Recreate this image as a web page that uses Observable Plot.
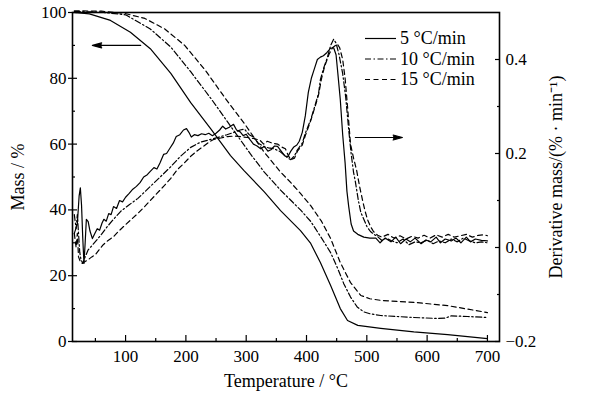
<!DOCTYPE html>
<html><head><meta charset="utf-8">
<script src="https://cdn.jsdelivr.net/npm/d3@7"></script>
<script src="https://cdn.jsdelivr.net/npm/@observablehq/plot@0.6"></script>
<style>body{margin:0;background:#fff} #chart{position:relative;width:592px;height:399px} #chart svg text{font-family:'Liberation Serif','Times New Roman',serif}</style>
</head><body><div id="chart"></div>
<script>
const seriesNames = ["5 °C/min", "10 °C/min", "15 °C/min"];

// Mass (%) vs temperature (°C)
const mass5 = [[15,100],[40,99.6],[75,97.6],[108,94],[141,89],[175,81.5],[208,72.6],[241,64.7],[274,56.5],[296,52],[330,45.5],[357,39.8],[390,33.7],[407,29.8],[423,24],[440,17],[456,10],[468,6.4],[485,4.9],[523,4],[578,2.9],[634,2.1],[700,0.9]];
const mass10 = [[15,100.3],[60,100.1],[100,99.3],[141,95],[175,89.5],[208,82],[241,74],[274,65.5],[307,57],[330,51.5],[357,46],[390,40],[407,36.5],[423,32],[440,27],[451,22.5],[462,17.5],[473,13.5],[484,10.5],[495,9],[506,8.4],[523,7.9],[578,7.3],[617,7.0],[630,7.1],[640,7.8],[667,7.6],[700,7.3]];
const mass15 = [[15,100.5],[60,100.4],[97,99.8],[132,98.2],[165,95],[198,90],[232,82.5],[265,74],[298,66],[330,57.5],[357,51.5],[374,48.3],[390,45],[407,41.3],[425,36.5],[440,31.3],[456,24],[473,17.9],[490,14],[505,13],[523,12.5],[578,11.9],[634,10.9],[700,8.8]];

// Derivative mass (%/min) vs temperature (°C)
const deriv5 = [[15,0.03],[20,0.05],[23,0.11],[25,0.127],[27,0.09],[29,0.02],[31,-0.034],[33,0.01],[35,0.06],[38,0.055],[41,0.035],[45,0.019],[49,0.03],[53,0.04],[57,0.037],[61,0.052],[64,0.06],[68,0.056],[72,0.072],[76,0.07],[80,0.087],[85,0.083],[90,0.1],[95,0.097],[100,0.107],[106,0.115],[112,0.124],[118,0.13],[124,0.138],[130,0.15],[136,0.155],[141,0.162],[147,0.17],[152,0.167],[157,0.18],[163,0.198],[168,0.2],[173,0.21],[179,0.222],[184,0.236],[190,0.24],[196,0.25],[201,0.253],[205,0.245],[209,0.235],[214,0.24],[220,0.238],[226,0.242],[232,0.24],[238,0.243],[244,0.238],[250,0.243],[256,0.25],[261,0.258],[266,0.252],[272,0.256],[279,0.262],[284,0.25],[290,0.246],[295,0.238],[300,0.241],[306,0.23],[312,0.22],[318,0.216],[324,0.21],[330,0.215],[336,0.205],[341,0.208],[347,0.216],[352,0.215],[358,0.205],[364,0.195],[369,0.193],[374,0.205],[379,0.214],[384,0.218],[388,0.226],[393,0.245],[398,0.28],[403,0.33],[408,0.36],[413,0.38],[418,0.4],[423,0.405],[428,0.408],[434,0.415],[440,0.424],[445,0.425],[449,0.41],[452,0.37],[456,0.315],[460,0.24],[464,0.18],[467,0.12],[470,0.087],[474,0.05],[478,0.035],[485,0.028],[495,0.022],[505,0.02],[515,0.02],[522,0.01],[530,0.02],[540,0.012],[548,0.022],[556,0.008],[565,0.018],[572,0.012],[580,0.02],[590,0.008],[598,0.016],[606,0.012],[615,0.022],[622,0.01],[630,0.018],[640,0.014],[648,0.02],[656,0.01],[665,0.022],[672,0.012],[680,0.018],[690,0.015],[700,0.014]];
const deriv10 = [[15,0.07],[18,0.04],[20,0.07],[22,0.03],[24,-0.01],[26,-0.025],[29,-0.034],[33,-0.02],[38,-0.005],[45,0.005],[53,0.017],[60,0.028],[70,0.045],[80,0.06],[92,0.077],[105,0.09],[120,0.104],[133,0.12],[146,0.136],[155,0.147],[163,0.157],[175,0.172],[191,0.194],[208,0.213],[224,0.224],[241,0.23],[255,0.235],[268,0.24],[280,0.245],[290,0.25],[297,0.252],[305,0.24],[312,0.235],[320,0.222],[329,0.215],[337,0.212],[346,0.21],[355,0.205],[362,0.198],[369,0.19],[374,0.187],[380,0.195],[385,0.208],[393,0.222],[398,0.243],[407,0.272],[415,0.306],[420,0.328],[423,0.357],[428,0.38],[435,0.406],[440,0.43],[445,0.443],[449,0.435],[454,0.41],[460,0.37],[465,0.32],[470,0.25],[474,0.2],[478,0.16],[481,0.14],[486,0.1],[490,0.075],[495,0.06],[500,0.045],[506,0.034],[512,0.028],[518,0.023],[525,0.015],[532,0.02],[540,0.015],[550,0.01],[560,0.018],[570,0.006],[580,0.012],[590,0.01],[600,0.016],[610,0.008],[620,0.014],[630,0.01],[640,0.018],[650,0.012],[660,0.02],[670,0.014],[680,0.01],[690,0.012],[700,0.01]];
const deriv15 = [[15,0.03],[18,0.0],[20,0.03],[22,-0.02],[25,-0.03],[28,-0.034],[33,-0.03],[38,-0.026],[44,-0.02],[50,-0.015],[56,-0.005],[63,0.006],[71,0.015],[80,0.023],[88,0.034],[97,0.045],[108,0.058],[120,0.072],[130,0.085],[141,0.1],[152,0.115],[163,0.13],[175,0.147],[186,0.166],[196,0.178],[208,0.194],[219,0.206],[229,0.215],[238,0.224],[246,0.23],[258,0.233],[269,0.236],[280,0.237],[291,0.236],[302,0.234],[312,0.232],[323,0.228],[329,0.22],[335,0.226],[343,0.222],[352,0.22],[360,0.213],[365,0.21],[370,0.195],[374,0.187],[380,0.19],[385,0.205],[393,0.218],[398,0.238],[407,0.27],[415,0.303],[420,0.325],[425,0.36],[430,0.385],[437,0.41],[443,0.425],[451,0.433],[455,0.425],[460,0.4],[464,0.36],[468,0.3],[473,0.22],[478,0.19],[483,0.165],[488,0.13],[493,0.1],[497,0.078],[501,0.06],[506,0.045],[511,0.034],[518,0.026],[525,0.022],[535,0.028],[545,0.02],[555,0.025],[565,0.018],[575,0.024],[585,0.02],[595,0.026],[605,0.02],[615,0.027],[625,0.022],[635,0.028],[645,0.022],[655,0.025],[665,0.028],[675,0.022],[685,0.026],[695,0.027],[700,0.025]];

// Tick values
const tempTicks = [100, 200, 300, 400, 500, 600, 700];
const tempMinor = [50, 150, 250, 350, 450, 550, 650];
const massTicks = [0, 20, 40, 60, 80, 100];
const massMinor = [10, 30, 50, 70, 90];
const derivTicks = [-0.2, 0, 0.2, 0.4];
const derivMinor = [-0.1, 0.1, 0.3];

// Annotation arrows: [T from, T to, mass level]
const arrows = [[125, 45, 90], [481, 559, 62]];

const dashes = [null, "6,2.5,1.5,2.5", "5,3.5"];
const massSeries = [mass5, mass10, mass15];
const derivSeries = [deriv5, deriv10, deriv15];

// right axis (-0.2 .. 0.5) shares the frame with left axis (0 .. 100)
const toMass = d => (d + 0.2) / 0.7 * 100;
const fromMass = m => m * 0.007 - 0.2;
const fmtD = v => { const r = Math.round(v * 10) / 10; return (r < 0 ? "\u2212" : "") + Math.abs(r).toFixed(1); };

const F = "'Liberation Serif', 'Times New Roman', serif";
const lineMarks = [];
massSeries.forEach((s, i) => lineMarks.push(Plot.line(s, {x: d => d[0], y: d => d[1], stroke: "black", strokeWidth: 1.2, strokeDasharray: dashes[i] || undefined})));
derivSeries.forEach((s, i) => lineMarks.push(Plot.line(s, {x: d => d[0], y: d => toMass(d[1]), stroke: "black", strokeWidth: 1.2, strokeDasharray: dashes[i] || undefined})));

const svg = Plot.plot({
  width: 592, height: 399,
  marginLeft: 72, marginRight: 93, marginTop: 12, marginBottom: 58,
  style: {fontFamily: F, fontSize: "17px", background: "white", color: "black"},
  x: {domain: [12, 720], axis: null},
  y: {domain: [0, 100], axis: null},
  marks: [
    ...lineMarks,
    Plot.arrow(arrows, {x1: d => d[0], x2: d => d[1], y1: d => d[2], y2: d => d[2], stroke: "black", fill: "black", strokeWidth: 1.2, headAngle: 30, headLength: 12}),
    Plot.frame({stroke: "black", strokeWidth: 1.6}),
    // x axis
    Plot.axisX(tempTicks, {anchor: "bottom", tickSize: 0, tickPadding: 8, fontSize: 17, fontFamily: F, label: null}),
    Plot.axisX(tempTicks, {anchor: "bottom", tickSize: -6, text: null, label: null, strokeWidth: 1.2}),
    Plot.axisX(tempMinor, {anchor: "bottom", tickSize: -3, text: null, label: null, strokeWidth: 1.2}),
    // left axis
    Plot.axisY(massTicks, {anchor: "left", tickSize: 4, tickPadding: 2, fontSize: 17, fontFamily: F, label: null, strokeWidth: 1.2}),
    Plot.axisY(massTicks, {anchor: "left", tickSize: -5, text: null, label: null, strokeWidth: 1.2}),
    Plot.axisY(massMinor, {anchor: "left", tickSize: -3, text: null, label: null, strokeWidth: 1.2}),
    // right axis
    Plot.axisY(derivTicks.map(toMass), {anchor: "right", tickSize: 0, tickPadding: 6, fontSize: 17, fontFamily: F, label: null, tickFormat: m => fmtD(fromMass(m))}),
    Plot.axisY(derivTicks.map(toMass), {anchor: "right", tickSize: -5, text: null, label: null, strokeWidth: 1.2}),
    Plot.axisY(derivMinor.map(toMass), {anchor: "right", tickSize: -3, text: null, label: null, strokeWidth: 1.2}),
    // axis titles
    Plot.text(["Temperature / \u00B0C"], {frameAnchor: "bottom", dy: 45, lineAnchor: "bottom", textAnchor: "middle", fontSize: 18, fontFamily: F}),
    Plot.text(["Mass / %"], {frameAnchor: "left", dx: -54, rotate: -90, textAnchor: "middle", lineAnchor: "middle", fontSize: 18, fontFamily: F}),
    Plot.text(["Derivative mass/(% \u00B7 min\u207B\u00B9)"], {frameAnchor: "right", dx: 57, rotate: -90, textAnchor: "middle", lineAnchor: "middle", fontSize: 18, fontFamily: F})
  ]
});
document.getElementById("chart").append(svg);

// legend inside the frame, top right
const lg = d3.select(svg).append("g").attr("font-family", F).attr("font-size", 18).attr("text-anchor", "start");
seriesNames.forEach((name, i) => {
  const y = 38.5 + i * 20.5;
  lg.append("line").attr("x1", 365).attr("x2", 396).attr("y1", y).attr("y2", y)
    .attr("stroke", "black").attr("stroke-width", 1.2)
    .attr("stroke-dasharray", dashes[i] || null);
  lg.append("text").attr("x", 400).attr("y", y).attr("dy", "0.32em").attr("text-anchor", "start").text(name);
});
</script></body></html>
